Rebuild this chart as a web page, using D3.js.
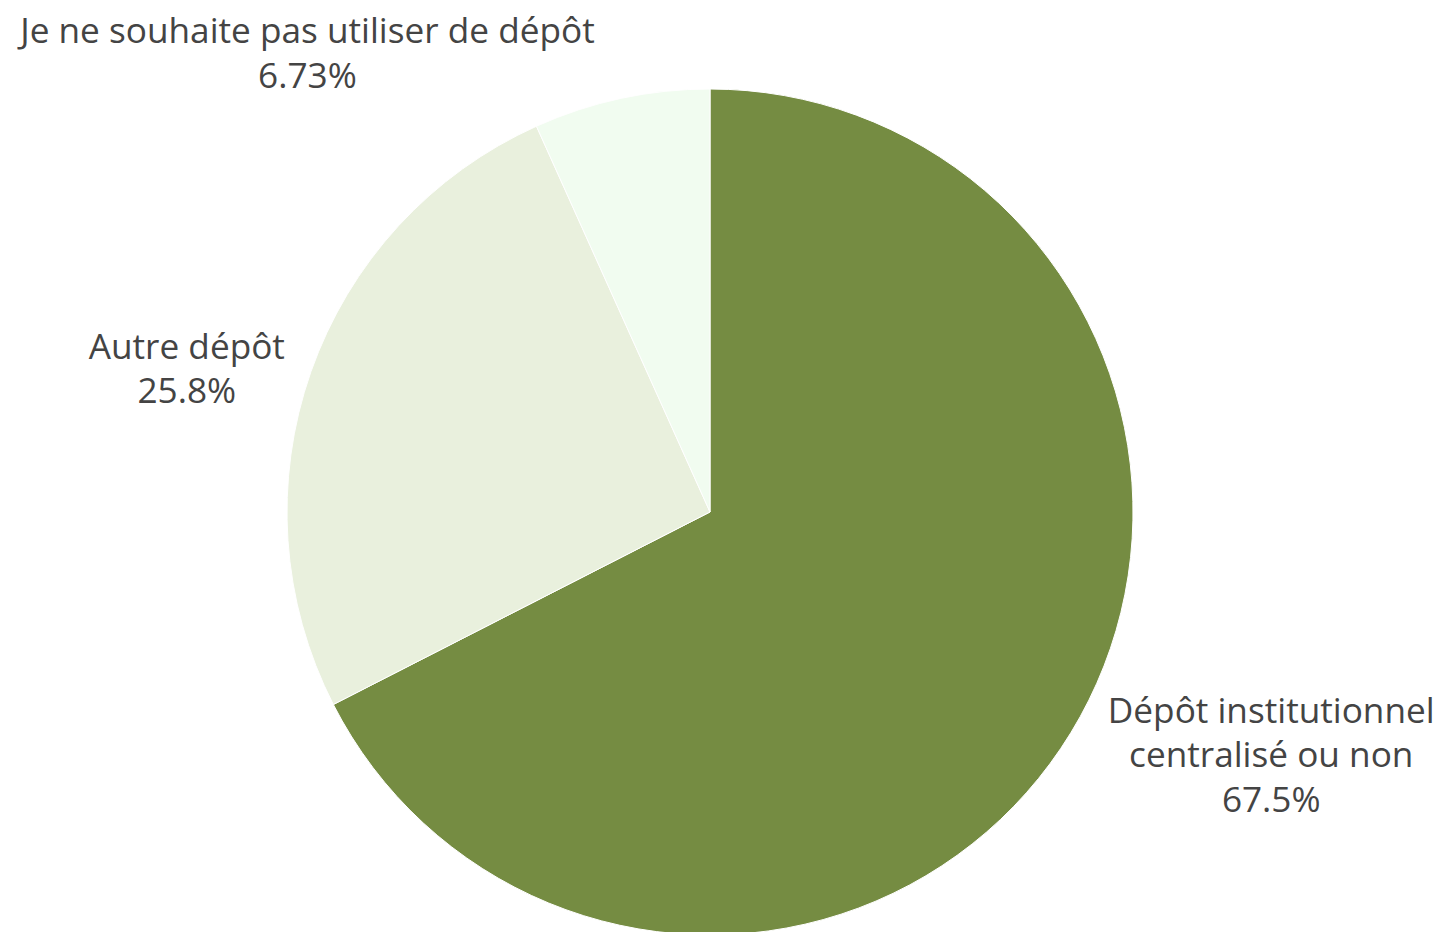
<!DOCTYPE html>
<html><head><meta charset="utf-8">
<script src="https://cdn.jsdelivr.net/npm/d3@7"></script>
<style>html,body{margin:0;padding:0;background:#fff;}svg{display:block;}</style>
</head><body>
<svg id="chart" width="1441" height="932"></svg>
<script>
const categories = ["Dépôt institutionnel centralisé ou non", "Autre dépôt", "Je ne souhaite pas utiliser de dépôt"];
const labelLines = [["Dépôt institutionnel", "centralisé ou non"], ["Autre dépôt"], ["Je ne souhaite pas utiliser de dépôt"]];
const values = [67.5, 25.8, 6.73];
const valueLabels = ["67.5%", "25.8%", "6.73%"];
const colors = ["#758c42", "#e9f0dd", "#f1fcf0"];

// layout (not data)
const labelLayout = [
  {side: "start", gap: 37, dy: 22},
  {side: "end", gap: 26, dy: -3},
  {side: "end", gap: 25, dy: -45}
];

const svg = d3.select("#chart");
const cx = 710, cy = 512, R = 423;
const g = svg.append("g").attr("transform", `translate(${cx},${cy})`);

const pie = d3.pie().sort(null).value(d => d)(values);
const arc = d3.arc().innerRadius(0).outerRadius(R);

g.selectAll("path.slice").data(pie).join("path")
  .attr("class", "slice")
  .attr("d", arc)
  .attr("fill", (d, i) => colors[i])
  .attr("stroke", "#fff")
  .attr("stroke-width", 1);

const fontSize = 35.2, lh = 44.5;
pie.forEach((d, i) => {
  const a = (d.startAngle + d.endAngle) / 2;
  const ax = R * Math.sin(a), ay = -R * Math.cos(a);
  const lines = labelLines[i].concat([valueLabels[i]]);
  const t = g.append("text")
    .attr("font-family", "'Open Sans', sans-serif")
    .attr("font-size", fontSize)
    .attr("fill", "#444")
    .attr("text-anchor", "middle");
  lines.forEach((ln, k) => {
    t.append("tspan").attr("x", 0).attr("y", (k - (lines.length - 1) / 2) * lh + fontSize * 0.35).text(ln);
  });
  const bb = t.node().getBBox();
  const L = labelLayout[i];
  const bx = L.side === "start" ? ax + L.gap + bb.width / 2 : ax - L.gap - bb.width / 2;
  const by = ay + L.dy;
  t.attr("transform", `translate(${bx},${by})`);
});
</script>
</body></html>
